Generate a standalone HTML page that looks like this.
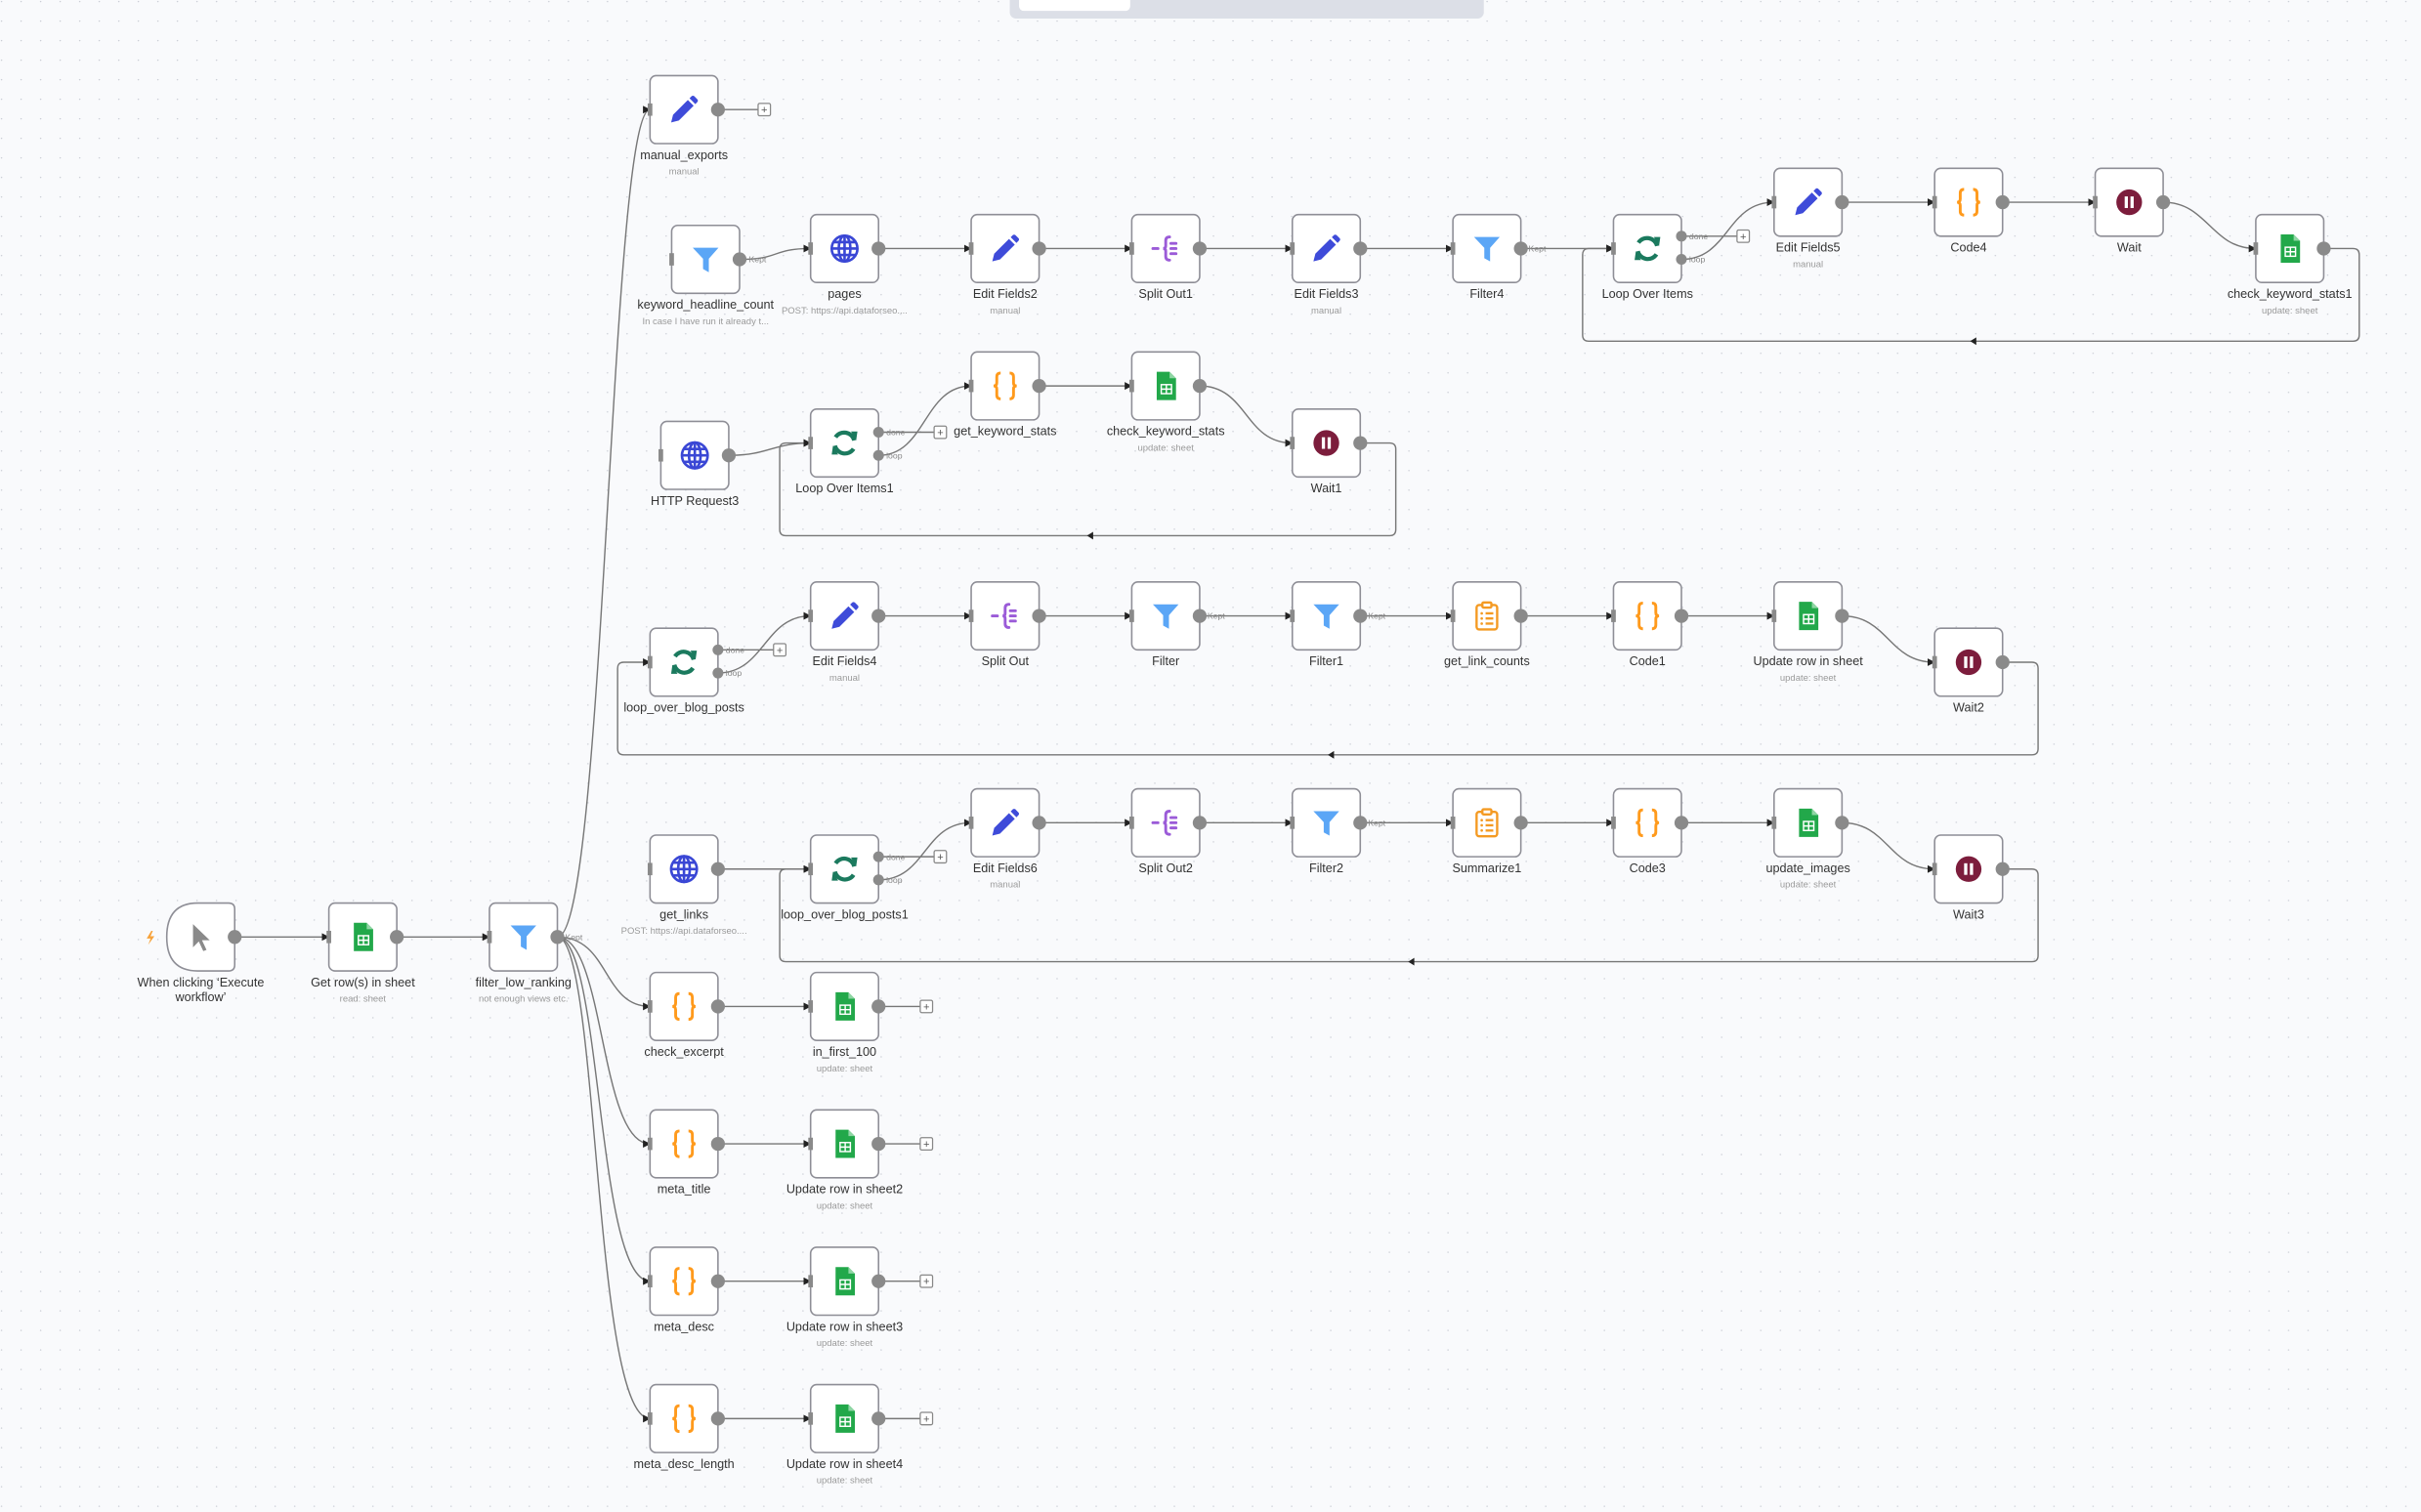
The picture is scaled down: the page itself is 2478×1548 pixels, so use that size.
<!DOCTYPE html>
<html><head><meta charset="utf-8"><style>
html,body{margin:0;padding:0;background:#f9fafc;}
svg{display:block;font-family:"Liberation Sans",sans-serif;}
.n{fill:#fff;stroke:#8e8e96;stroke-width:1;}
.h{fill:#8a8a8a;}
.o{fill:#8a8a8a;}
.l{font-size:8px;fill:#333;text-anchor:middle;}
.s{font-size:6px;fill:#9a9a9a;text-anchor:middle;}
.e{fill:none;stroke:#777;stroke-width:0.9;}
.t{font-size:5.5px;fill:#888;}
</style></head><body>
<svg width="2478" height="1548" viewBox="0 0 1568 979.5" xmlns="http://www.w3.org/2000/svg">
<defs>
<pattern id="dots" width="12.66" height="12.66" patternUnits="userSpaceOnUse"><circle cx="1" cy="1" r="0.45" fill="#c9ccd4"/></pattern>
<marker id="ar" viewBox="0 0 6 6" refX="5.5" refY="3" markerWidth="5" markerHeight="5" orient="auto" markerUnits="userSpaceOnUse"><path d="M0 0 L6 3 L0 6 Z" fill="#222"/></marker>
<symbol id="pencil" viewBox="0 0 24 24"><path d="M2 22 L3.5 16 L15 4.5 L19.5 9 L8 20.5 Z" fill="#3e4bd9"/><path d="M16.3 3.2 L18 1.5 Q19 0.8 20 1.6 L22.4 4 Q23.2 5 22.4 6 L20.8 7.7 Z" fill="#3e4bd9"/></symbol>
<symbol id="globe" viewBox="0 0 24 24"><g fill="none" stroke="#3a47d5" stroke-width="2"><circle cx="12" cy="12" r="10"/><ellipse cx="12" cy="12" rx="4.5" ry="10"/><path d="M2 12 H22 M4 7 H20 M4 17 H20 M12 2 V22"/></g></symbol>
<symbol id="filter" viewBox="0 0 24 24"><path d="M2 3 H22 L14.5 11.5 V22 L10 19.5 V11.5 Z" fill="#5ba6f6"/></symbol>
<symbol id="split" viewBox="0 0 24 24"><g fill="none" stroke="#9b5bd8" stroke-width="2.2" stroke-linecap="round"><path d="M2 12 H6"/><path d="M15 3 Q12 3 12 6 V10 Q12 12 10 12 Q12 12 12 14 V18 Q12 21 15 21"/><path d="M16 8 H20 M16 12 H20 M16 16 H20"/></g></symbol>
<symbol id="loop" viewBox="0 0 24 24"><g fill="none" stroke="#1b7a5e" stroke-width="3.2"><path d="M19.5 10 A8 8 0 0 0 5 7.5"/><path d="M4.5 14 A8 8 0 0 0 19 16.5"/></g><path d="M17 3 L22 3 L21 10 Z" fill="#1b7a5e"/><path d="M7 21 L2 21 L3 14 Z" fill="#1b7a5e"/></symbol>
<symbol id="code" viewBox="0 0 24 24"><g fill="none" stroke="#ff9a1c" stroke-width="2.2"><path d="M8.5 2 Q5.5 2 5.5 5 V9.5 Q5.5 12 3 12 Q5.5 12 5.5 14.5 V19 Q5.5 22 8.5 22"/><path d="M15.5 2 Q18.5 2 18.5 5 V9.5 Q18.5 12 21 12 Q18.5 12 18.5 14.5 V19 Q18.5 22 15.5 22"/></g></symbol>
<symbol id="sheets" viewBox="0 0 24 24"><path d="M5 1 H15 L20 6 V23 H5 Z" fill="#22a84a"/><path d="M15 1 V6 H20 Z" fill="#8fd6a4"/><g fill="none" stroke="#fff" stroke-width="1.1"><rect x="8.5" y="11" width="8" height="7"/><path d="M8.5 14.5 H16.5 M12.5 11 V18"/></g></symbol>
<symbol id="wait" viewBox="0 0 24 24"><circle cx="12" cy="12" r="10" fill="#7c1d3c"/><rect x="8.5" y="7.5" width="2.5" height="9" fill="#fff"/><rect x="13" y="7.5" width="2.5" height="9" fill="#fff"/></symbol>
<symbol id="summ" viewBox="0 0 24 24"><g fill="none" stroke="#f49a22" stroke-width="1.8"><rect x="4" y="3.5" width="16" height="19" rx="2"/><rect x="8.5" y="1.5" width="7" height="4" rx="1" fill="#fff"/><path d="M11 10 H17 M11 14 H17 M11 18 H17"/></g><g fill="#f49a22"><circle cx="8" cy="10" r="1"/><circle cx="8" cy="14" r="1"/><circle cx="8" cy="18" r="1"/></g></symbol>
<symbol id="cursor" viewBox="0 0 24 24"><path d="M6 2 L6 20 L10.5 15.5 L14 23 L16.5 22 L13 14.5 L19 14.5 Z" fill="#8a8a8a"/></symbol>
</defs>
<rect width="1568" height="980" fill="#f9fafc"/>
<rect width="1568" height="980" fill="url(#dots)"/>
<rect x="654" y="-6" width="307" height="18" rx="4" fill="#dcdfe7"/>
<rect x="660" y="-6" width="72" height="13" rx="3" fill="#fff"/>

<g class="e" marker-end="url(#ar)">
<path d="M361 607 C392 607,395 71,421 71"/>
<path d="M361 607 C395 607,390 652,421 652"/>
<path d="M361 607 C392 607,388 741,421 741"/>
<path d="M361 607 C390 607,386 830,421 830"/>
<path d="M361 607 C388 607,384 919,421 919"/>
<path d="M152 607 H213"/><path d="M257 607 H317"/>
<path d="M480 168 C505 168,500 161,525 161"/>
<path d="M569 161 H629"/><path d="M673 161 H733"/><path d="M777 161 H837"/><path d="M881 161 H941"/><path d="M985 161 H1045"/>
<path d="M1089 168 C1120 168,1118 131,1149 131"/>
<path d="M1193 131 H1253"/><path d="M1297 131 H1357"/>
<path d="M1401 131 C1430 131,1432 161,1461 161"/>
<path d="M1505 161 H1524 Q1528 161 1528 165 V217 Q1528 221 1524 221 H1029 Q1025 221 1025 217 V165 Q1025 161 1029 161 H1045"/>
<path d="M472 295 C498 295,500 287,525 287"/>
<path d="M569 295 C600 295,598 250,629 250"/>
<path d="M673 250 H733"/>
<path d="M777 250 C808 250,806 287,837 287"/>
<path d="M881 287 H900 Q904 287 904 291 V343 Q904 347 900 347 H509 Q505 347 505 343 V291 Q505 287 509 287 H525"/>
<path d="M465 436 C495 436,495 399,525 399"/>
<path d="M569 399 H629"/><path d="M673 399 H733"/><path d="M777 399 H837"/><path d="M881 399 H941"/><path d="M985 399 H1045"/><path d="M1089 399 H1149"/>
<path d="M1193 399 C1223 399,1223 429,1253 429"/>
<path d="M1297 429 H1316 Q1320 429 1320 433 V485 Q1320 489 1316 489 H404 Q400 489 400 485 V433 Q400 429 404 429 H421"/>
<path d="M465 563 H525"/>
<path d="M569 570 C600 570,598 533,629 533"/>
<path d="M673 533 H733"/><path d="M777 533 H837"/><path d="M881 533 H941"/><path d="M985 533 H1045"/><path d="M1089 533 H1149"/>
<path d="M1193 533 C1223 533,1223 563,1253 563"/>
<path d="M1297 563 H1316 Q1320 563 1320 567 V619 Q1320 623 1316 623 H509 Q505 623 505 619 V567 Q505 563 509 563 H525"/>
<path d="M465 652 H525"/><path d="M465 741 H525"/><path d="M465 830 H525"/><path d="M465 919 H525"/>
</g>
<g fill="#222"><path d="M1276 221 l4 -2.5 v5 z"/><path d="M704 347 l4 -2.5 v5 z"/><path d="M860 489 l4 -2.5 v5 z"/><path d="M912 623 l4 -2.5 v5 z"/></g>
<g class="e"><path d="M465 71 H491"/><path d="M1089 153 H1125"/><path d="M569 280 H605"/><path d="M465 421 H501"/><path d="M569 555 H605"/><path d="M569 652 H596"/><path d="M569 741 H596"/><path d="M569 830 H596"/><path d="M569 919 H596"/></g>
<g fill="#fff" stroke="#888" stroke-width="0.8">
<rect x="491" y="67" width="8" height="8" rx="1"/><rect x="1125" y="149" width="8" height="8" rx="1"/><rect x="605" y="276" width="8" height="8" rx="1"/><rect x="501" y="417" width="8" height="8" rx="1"/><rect x="605" y="551" width="8" height="8" rx="1"/><rect x="596" y="648" width="8" height="8" rx="1"/><rect x="596" y="737" width="8" height="8" rx="1"/><rect x="596" y="826" width="8" height="8" rx="1"/><rect x="596" y="915" width="8" height="8" rx="1"/></g>
<g font-size="7" fill="#555" text-anchor="middle"><text x="495" y="73.5">+</text><text x="1129" y="155.5">+</text><text x="609" y="282.5">+</text><text x="505" y="423.5">+</text><text x="609" y="557.5">+</text><text x="600" y="654.5">+</text><text x="600" y="743.5">+</text><text x="600" y="832.5">+</text><text x="600" y="921.5">+</text></g>
<g class="t">
<text x="366" y="609">Kept</text><text x="485" y="170">Kept</text><text x="990" y="163">Kept</text><text x="782" y="401">Kept</text><text x="886" y="401">Kept</text><text x="886" y="535">Kept</text>
<text x="1094" y="155">done</text><text x="1094" y="170">loop</text>
<text x="574" y="282">done</text><text x="574" y="297">loop</text>
<text x="470" y="423">done</text><text x="470" y="438">loop</text>
<text x="574" y="557">done</text><text x="574" y="572">loop</text>
</g>

<g transform="translate(108,585)"><path class="n" d="M20 0 H40 Q44 0 44 4 V40 Q44 44 40 44 H20 Q0 44 0 22 Q0 0 20 0 Z"/><circle class="o" cx="44" cy="22" r="4.5"/><use href="#cursor" x="12" y="12" width="20" height="20"/><text class="l" x="22" y="54">When clicking ‘Execute</text><text class="l" x="22" y="63.5">workflow’</text><path d="M-10 18 L-13 23 L-10.5 23 L-12 27 L-8 21.5 L-10.5 21.5 L-9 18 Z" fill="#f7a23a"/></g>

<g transform="translate(213,585)"><rect class="n" width="44" height="44" rx="4"/><rect class="h" x="-1.5" y="18" width="3" height="8"/><circle class="o" cx="44" cy="22" r="4.5"/><use href="#sheets" x="12" y="12" width="20" height="20"/><text class="l" x="22" y="54">Get row(s) in sheet</text><text class="s" x="22" y="64">read: sheet</text></g>
<g transform="translate(317,585)"><rect class="n" width="44" height="44" rx="4"/><rect class="h" x="-1.5" y="18" width="3" height="8"/><circle class="o" cx="44" cy="22" r="4.5"/><use href="#filter" x="12" y="12" width="20" height="20"/><text class="l" x="22" y="54">filter_low_ranking</text><text class="s" x="22" y="64">not enough views etc.</text></g>

<g transform="translate(421,49)"><rect class="n" width="44" height="44" rx="4"/><rect class="h" x="-1.5" y="18" width="3" height="8"/><circle class="o" cx="44" cy="22" r="4.5"/><use href="#pencil" x="12" y="12" width="20" height="20"/><text class="l" x="22" y="54">manual_exports</text><text class="s" x="22" y="64">manual</text></g>

<g transform="translate(435,146)"><rect class="n" width="44" height="44" rx="4"/><rect class="h" x="-1.5" y="18" width="3" height="8"/><circle class="o" cx="44" cy="22" r="4.5"/><use href="#filter" x="12" y="12" width="20" height="20"/><text class="l" x="22" y="54">keyword_headline_count</text><text class="s" x="22" y="64">In case I have run it already t...</text></g>
<g transform="translate(525,139)"><rect class="n" width="44" height="44" rx="4"/><rect class="h" x="-1.5" y="18" width="3" height="8"/><circle class="o" cx="44" cy="22" r="4.5"/><use href="#globe" x="12" y="12" width="20" height="20"/><text class="l" x="22" y="54">pages</text><text class="s" x="22" y="64">POST: https://api.dataforseo....</text></g>
<g transform="translate(629,139)"><rect class="n" width="44" height="44" rx="4"/><rect class="h" x="-1.5" y="18" width="3" height="8"/><circle class="o" cx="44" cy="22" r="4.5"/><use href="#pencil" x="12" y="12" width="20" height="20"/><text class="l" x="22" y="54">Edit Fields2</text><text class="s" x="22" y="64">manual</text></g>
<g transform="translate(733,139)"><rect class="n" width="44" height="44" rx="4"/><rect class="h" x="-1.5" y="18" width="3" height="8"/><circle class="o" cx="44" cy="22" r="4.5"/><use href="#split" x="12" y="12" width="20" height="20"/><text class="l" x="22" y="54">Split Out1</text></g>
<g transform="translate(837,139)"><rect class="n" width="44" height="44" rx="4"/><rect class="h" x="-1.5" y="18" width="3" height="8"/><circle class="o" cx="44" cy="22" r="4.5"/><use href="#pencil" x="12" y="12" width="20" height="20"/><text class="l" x="22" y="54">Edit Fields3</text><text class="s" x="22" y="64">manual</text></g>
<g transform="translate(941,139)"><rect class="n" width="44" height="44" rx="4"/><rect class="h" x="-1.5" y="18" width="3" height="8"/><circle class="o" cx="44" cy="22" r="4.5"/><use href="#filter" x="12" y="12" width="20" height="20"/><text class="l" x="22" y="54">Filter4</text></g>
<g transform="translate(1045,139)"><rect class="n" width="44" height="44" rx="4"/><rect class="h" x="-1.5" y="18" width="3" height="8"/><circle class="o" cx="44" cy="14" r="3.5"/><circle class="o" cx="44" cy="29" r="3.5"/><use href="#loop" x="12" y="12" width="20" height="20"/><text class="l" x="22" y="54">Loop Over Items</text></g>
<g transform="translate(1149,109)"><rect class="n" width="44" height="44" rx="4"/><rect class="h" x="-1.5" y="18" width="3" height="8"/><circle class="o" cx="44" cy="22" r="4.5"/><use href="#pencil" x="12" y="12" width="20" height="20"/><text class="l" x="22" y="54">Edit Fields5</text><text class="s" x="22" y="64">manual</text></g>
<g transform="translate(1253,109)"><rect class="n" width="44" height="44" rx="4"/><rect class="h" x="-1.5" y="18" width="3" height="8"/><circle class="o" cx="44" cy="22" r="4.5"/><use href="#code" x="12" y="12" width="20" height="20"/><text class="l" x="22" y="54">Code4</text></g>
<g transform="translate(1357,109)"><rect class="n" width="44" height="44" rx="4"/><rect class="h" x="-1.5" y="18" width="3" height="8"/><circle class="o" cx="44" cy="22" r="4.5"/><use href="#wait" x="12" y="12" width="20" height="20"/><text class="l" x="22" y="54">Wait</text></g>
<g transform="translate(1461,139)"><rect class="n" width="44" height="44" rx="4"/><rect class="h" x="-1.5" y="18" width="3" height="8"/><circle class="o" cx="44" cy="22" r="4.5"/><use href="#sheets" x="12" y="12" width="20" height="20"/><text class="l" x="22" y="54">check_keyword_stats1</text><text class="s" x="22" y="64">update: sheet</text></g>

<g transform="translate(428,273)"><rect class="n" width="44" height="44" rx="4"/><rect class="h" x="-1.5" y="18" width="3" height="8"/><circle class="o" cx="44" cy="22" r="4.5"/><use href="#globe" x="12" y="12" width="20" height="20"/><text class="l" x="22" y="54">HTTP Request3</text></g>
<g transform="translate(525,265)"><rect class="n" width="44" height="44" rx="4"/><rect class="h" x="-1.5" y="18" width="3" height="8"/><circle class="o" cx="44" cy="15" r="3.5"/><circle class="o" cx="44" cy="30" r="3.5"/><use href="#loop" x="12" y="12" width="20" height="20"/><text class="l" x="22" y="54">Loop Over Items1</text></g>
<g transform="translate(629,228)"><rect class="n" width="44" height="44" rx="4"/><rect class="h" x="-1.5" y="18" width="3" height="8"/><circle class="o" cx="44" cy="22" r="4.5"/><use href="#code" x="12" y="12" width="20" height="20"/><text class="l" x="22" y="54">get_keyword_stats</text></g>
<g transform="translate(733,228)"><rect class="n" width="44" height="44" rx="4"/><rect class="h" x="-1.5" y="18" width="3" height="8"/><circle class="o" cx="44" cy="22" r="4.5"/><use href="#sheets" x="12" y="12" width="20" height="20"/><text class="l" x="22" y="54">check_keyword_stats</text><text class="s" x="22" y="64">update: sheet</text></g>
<g transform="translate(837,265)"><rect class="n" width="44" height="44" rx="4"/><rect class="h" x="-1.5" y="18" width="3" height="8"/><circle class="o" cx="44" cy="22" r="4.5"/><use href="#wait" x="12" y="12" width="20" height="20"/><text class="l" x="22" y="54">Wait1</text></g>

<g transform="translate(421,407)"><rect class="n" width="44" height="44" rx="4"/><rect class="h" x="-1.5" y="18" width="3" height="8"/><circle class="o" cx="44" cy="14" r="3.5"/><circle class="o" cx="44" cy="29" r="3.5"/><use href="#loop" x="12" y="12" width="20" height="20"/><text class="l" x="22" y="54">loop_over_blog_posts</text></g>
<g transform="translate(525,377)"><rect class="n" width="44" height="44" rx="4"/><rect class="h" x="-1.5" y="18" width="3" height="8"/><circle class="o" cx="44" cy="22" r="4.5"/><use href="#pencil" x="12" y="12" width="20" height="20"/><text class="l" x="22" y="54">Edit Fields4</text><text class="s" x="22" y="64">manual</text></g>
<g transform="translate(629,377)"><rect class="n" width="44" height="44" rx="4"/><rect class="h" x="-1.5" y="18" width="3" height="8"/><circle class="o" cx="44" cy="22" r="4.5"/><use href="#split" x="12" y="12" width="20" height="20"/><text class="l" x="22" y="54">Split Out</text></g>
<g transform="translate(733,377)"><rect class="n" width="44" height="44" rx="4"/><rect class="h" x="-1.5" y="18" width="3" height="8"/><circle class="o" cx="44" cy="22" r="4.5"/><use href="#filter" x="12" y="12" width="20" height="20"/><text class="l" x="22" y="54">Filter</text></g>
<g transform="translate(837,377)"><rect class="n" width="44" height="44" rx="4"/><rect class="h" x="-1.5" y="18" width="3" height="8"/><circle class="o" cx="44" cy="22" r="4.5"/><use href="#filter" x="12" y="12" width="20" height="20"/><text class="l" x="22" y="54">Filter1</text></g>
<g transform="translate(941,377)"><rect class="n" width="44" height="44" rx="4"/><rect class="h" x="-1.5" y="18" width="3" height="8"/><circle class="o" cx="44" cy="22" r="4.5"/><use href="#summ" x="12" y="12" width="20" height="20"/><text class="l" x="22" y="54">get_link_counts</text></g>
<g transform="translate(1045,377)"><rect class="n" width="44" height="44" rx="4"/><rect class="h" x="-1.5" y="18" width="3" height="8"/><circle class="o" cx="44" cy="22" r="4.5"/><use href="#code" x="12" y="12" width="20" height="20"/><text class="l" x="22" y="54">Code1</text></g>
<g transform="translate(1149,377)"><rect class="n" width="44" height="44" rx="4"/><rect class="h" x="-1.5" y="18" width="3" height="8"/><circle class="o" cx="44" cy="22" r="4.5"/><use href="#sheets" x="12" y="12" width="20" height="20"/><text class="l" x="22" y="54">Update row in sheet</text><text class="s" x="22" y="64">update: sheet</text></g>
<g transform="translate(1253,407)"><rect class="n" width="44" height="44" rx="4"/><rect class="h" x="-1.5" y="18" width="3" height="8"/><circle class="o" cx="44" cy="22" r="4.5"/><use href="#wait" x="12" y="12" width="20" height="20"/><text class="l" x="22" y="54">Wait2</text></g>

<g transform="translate(421,541)"><rect class="n" width="44" height="44" rx="4"/><rect class="h" x="-1.5" y="18" width="3" height="8"/><circle class="o" cx="44" cy="22" r="4.5"/><use href="#globe" x="12" y="12" width="20" height="20"/><text class="l" x="22" y="54">get_links</text><text class="s" x="22" y="64">POST: https://api.dataforseo....</text></g>
<g transform="translate(525,541)"><rect class="n" width="44" height="44" rx="4"/><rect class="h" x="-1.5" y="18" width="3" height="8"/><circle class="o" cx="44" cy="14" r="3.5"/><circle class="o" cx="44" cy="29" r="3.5"/><use href="#loop" x="12" y="12" width="20" height="20"/><text class="l" x="22" y="54">loop_over_blog_posts1</text></g>
<g transform="translate(629,511)"><rect class="n" width="44" height="44" rx="4"/><rect class="h" x="-1.5" y="18" width="3" height="8"/><circle class="o" cx="44" cy="22" r="4.5"/><use href="#pencil" x="12" y="12" width="20" height="20"/><text class="l" x="22" y="54">Edit Fields6</text><text class="s" x="22" y="64">manual</text></g>
<g transform="translate(733,511)"><rect class="n" width="44" height="44" rx="4"/><rect class="h" x="-1.5" y="18" width="3" height="8"/><circle class="o" cx="44" cy="22" r="4.5"/><use href="#split" x="12" y="12" width="20" height="20"/><text class="l" x="22" y="54">Split Out2</text></g>
<g transform="translate(837,511)"><rect class="n" width="44" height="44" rx="4"/><rect class="h" x="-1.5" y="18" width="3" height="8"/><circle class="o" cx="44" cy="22" r="4.5"/><use href="#filter" x="12" y="12" width="20" height="20"/><text class="l" x="22" y="54">Filter2</text></g>
<g transform="translate(941,511)"><rect class="n" width="44" height="44" rx="4"/><rect class="h" x="-1.5" y="18" width="3" height="8"/><circle class="o" cx="44" cy="22" r="4.5"/><use href="#summ" x="12" y="12" width="20" height="20"/><text class="l" x="22" y="54">Summarize1</text></g>
<g transform="translate(1045,511)"><rect class="n" width="44" height="44" rx="4"/><rect class="h" x="-1.5" y="18" width="3" height="8"/><circle class="o" cx="44" cy="22" r="4.5"/><use href="#code" x="12" y="12" width="20" height="20"/><text class="l" x="22" y="54">Code3</text></g>
<g transform="translate(1149,511)"><rect class="n" width="44" height="44" rx="4"/><rect class="h" x="-1.5" y="18" width="3" height="8"/><circle class="o" cx="44" cy="22" r="4.5"/><use href="#sheets" x="12" y="12" width="20" height="20"/><text class="l" x="22" y="54">update_images</text><text class="s" x="22" y="64">update: sheet</text></g>
<g transform="translate(1253,541)"><rect class="n" width="44" height="44" rx="4"/><rect class="h" x="-1.5" y="18" width="3" height="8"/><circle class="o" cx="44" cy="22" r="4.5"/><use href="#wait" x="12" y="12" width="20" height="20"/><text class="l" x="22" y="54">Wait3</text></g>

<g transform="translate(421,630)"><rect class="n" width="44" height="44" rx="4"/><rect class="h" x="-1.5" y="18" width="3" height="8"/><circle class="o" cx="44" cy="22" r="4.5"/><use href="#code" x="12" y="12" width="20" height="20"/><text class="l" x="22" y="54">check_excerpt</text></g>
<g transform="translate(525,630)"><rect class="n" width="44" height="44" rx="4"/><rect class="h" x="-1.5" y="18" width="3" height="8"/><circle class="o" cx="44" cy="22" r="4.5"/><use href="#sheets" x="12" y="12" width="20" height="20"/><text class="l" x="22" y="54">in_first_100</text><text class="s" x="22" y="64">update: sheet</text></g>
<g transform="translate(421,719)"><rect class="n" width="44" height="44" rx="4"/><rect class="h" x="-1.5" y="18" width="3" height="8"/><circle class="o" cx="44" cy="22" r="4.5"/><use href="#code" x="12" y="12" width="20" height="20"/><text class="l" x="22" y="54">meta_title</text></g>
<g transform="translate(525,719)"><rect class="n" width="44" height="44" rx="4"/><rect class="h" x="-1.5" y="18" width="3" height="8"/><circle class="o" cx="44" cy="22" r="4.5"/><use href="#sheets" x="12" y="12" width="20" height="20"/><text class="l" x="22" y="54">Update row in sheet2</text><text class="s" x="22" y="64">update: sheet</text></g>
<g transform="translate(421,808)"><rect class="n" width="44" height="44" rx="4"/><rect class="h" x="-1.5" y="18" width="3" height="8"/><circle class="o" cx="44" cy="22" r="4.5"/><use href="#code" x="12" y="12" width="20" height="20"/><text class="l" x="22" y="54">meta_desc</text></g>
<g transform="translate(525,808)"><rect class="n" width="44" height="44" rx="4"/><rect class="h" x="-1.5" y="18" width="3" height="8"/><circle class="o" cx="44" cy="22" r="4.5"/><use href="#sheets" x="12" y="12" width="20" height="20"/><text class="l" x="22" y="54">Update row in sheet3</text><text class="s" x="22" y="64">update: sheet</text></g>
<g transform="translate(421,897)"><rect class="n" width="44" height="44" rx="4"/><rect class="h" x="-1.5" y="18" width="3" height="8"/><circle class="o" cx="44" cy="22" r="4.5"/><use href="#code" x="12" y="12" width="20" height="20"/><text class="l" x="22" y="54">meta_desc_length</text></g>
<g transform="translate(525,897)"><rect class="n" width="44" height="44" rx="4"/><rect class="h" x="-1.5" y="18" width="3" height="8"/><circle class="o" cx="44" cy="22" r="4.5"/><use href="#sheets" x="12" y="12" width="20" height="20"/><text class="l" x="22" y="54">Update row in sheet4</text><text class="s" x="22" y="64">update: sheet</text></g>
</svg>
</body></html>
